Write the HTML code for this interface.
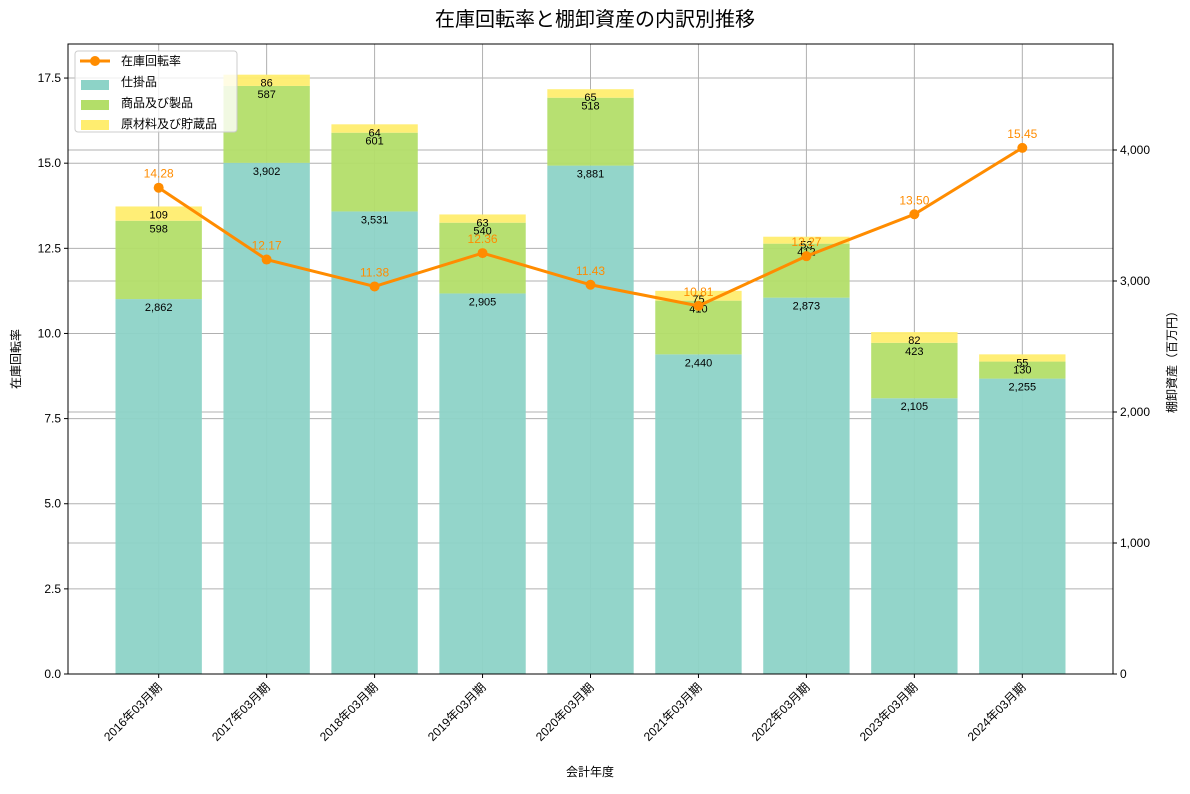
<!DOCTYPE html>
<html><head><meta charset="utf-8"><style>
body{margin:0;background:#fff;font-family:"Liberation Sans","Noto Sans CJK JP",sans-serif;}
svg text{font-family:"Liberation Sans","Noto Sans CJK JP",sans-serif;}
</style></head><body>
<svg id="chart" width="1190" height="789" xmlns="http://www.w3.org/2000/svg">
<text x="595" y="26" text-anchor="middle" font-size="20" fill="#000">在庫回転率と棚卸資産の内訳別推移</text>
<g id="grid"></g><g id="bars"></g><g id="line"></g><g id="axes"></g>
</svg>
<script>
const categories=["2016年03月期","2017年03月期","2018年03月期","2019年03月期","2020年03月期","2021年03月期","2022年03月期","2023年03月期","2024年03月期"];
const wip=[2862,3902,3531,2905,3881,2440,2873,2105,2255];
const goods=[598,587,601,540,518,410,412,423,130];
const materials=[109,86,64,63,65,75,53,82,55];
const turnover=[14.28,12.17,11.38,12.36,11.43,10.81,12.27,13.50,15.45];
const leftTicks=[0,2.5,5,7.5,10,12.5,15,17.5];
const rightTicks=[0,1000,2000,3000,4000];
const L=68,R=1113,T=44,B=674;
const NS="http://www.w3.org/2000/svg";
function xS(i){return L+(i+0.84)*(R-L)/9.68;}
const bw=0.8*(R-L)/9.68;
function yL(v){return B-v*(B-T)/18.5;}
function yR(v){return B-v*0.131;}
function el(tag,attrs,parent,txt){const e=document.createElementNS(NS,tag);for(const k in attrs)e.setAttribute(k,attrs[k]);if(txt!==undefined)e.textContent=txt;document.getElementById(parent).appendChild(e);return e;}
function fmt(v){return v.toLocaleString('en-US');}
// grid
leftTicks.forEach(t=>{const g=el('line',{x1:L,x2:R,y1:yL(t),y2:yL(t),stroke:'#b0b0b0','stroke-width':1},'grid');});
rightTicks.forEach(t=>{const g=el('line',{x1:L,x2:R,y1:yR(t),y2:yR(t),stroke:'#b0b0b0','stroke-width':1},'grid');});
categories.forEach((c,i)=>{const g=el('line',{x1:xS(i),x2:xS(i),y1:T,y2:B,stroke:'#b0b0b0','stroke-width':1},'grid');});
// bars
const series=[[wip,'#8dd3c7','wip'],[goods,'#b3de69','goods'],[materials,'#ffed6f','materials']];
categories.forEach((c,i)=>{let base=0;series.forEach(([arr,col,nm])=>{const v=arr[i];const y0=yR(base),y1=yR(base+v);
const r=el('rect',{x:xS(i)-bw/2,y:y1,width:bw,height:y0-y1,fill:col,opacity:0.95},'bars');

const t=el('text',{x:xS(i),y:y1+12,'text-anchor':'middle','font-size':11,fill:'#000'},'bars',fmt(v));

base+=v;});});
// line
const pts=turnover.map((v,i)=>xS(i)+','+yL(v)).join(' ');
const pl=el('polyline',{points:pts,fill:'none',stroke:'#ff8c00','stroke-width':3},'line');

turnover.forEach((v,i)=>{const c=el('circle',{cx:xS(i),cy:yL(v),r:5,fill:'#ff8c00'},'line');

const t=el('text',{x:xS(i),y:yL(v)-10,'text-anchor':'middle','font-size':12,fill:'#ff8c00'},'line',v.toFixed(2));
});
// axes frame
const f=el('rect',{x:L,y:T,width:R-L,height:B-T,fill:'none',stroke:'#000','stroke-width':1},'axes');

leftTicks.forEach(t=>{el('line',{x1:L-4,x2:L,y1:yL(t),y2:yL(t),stroke:'#000'},'axes');
const tx=el('text',{x:L-7,y:yL(t)+4,'text-anchor':'end','font-size':12},'axes',t.toFixed(1));});
rightTicks.forEach(t=>{el('line',{x1:R,x2:R+4,y1:yR(t),y2:yR(t),stroke:'#000'},'axes');
const tx=el('text',{x:R+7,y:yR(t)+4,'text-anchor':'start','font-size':12},'axes',fmt(t));});
categories.forEach((c,i)=>{el('line',{x1:xS(i),x2:xS(i),y1:B,y2:B+4,stroke:'#000'},'axes');
const tx=el('text',{x:xS(i)+4,y:B+14,'text-anchor':'end','font-size':12,transform:`rotate(-45 ${xS(i)+4} ${B+14})`},'axes',c);
});
let a=el('text',{x:590,y:776,'text-anchor':'middle','font-size':12},'axes','会計年度');
a=el('text',{x:20,y:359,'text-anchor':'middle','font-size':12,transform:'rotate(-90 20 359)'},'axes','在庫回転率');
a=el('text',{x:1176,y:359,'text-anchor':'middle','font-size':12,transform:'rotate(-90 1176 359)'},'axes','棚卸資産（百万円）');
// legend
const lg=el('rect',{x:75,y:51,width:162,height:81,fill:'#fff','fill-opacity':0.8,stroke:'#ccc',rx:3},'axes');
el('line',{x1:80,x2:110,y1:61,y2:61,stroke:'#ff8c00','stroke-width':3},'axes');el('circle',{cx:95,cy:61,r:5,fill:'#ff8c00'},'axes');
[['#8dd3c7',85],['#b3de69',105],['#ffed6f',125]].forEach(([c,y])=>{el('rect',{x:81,y:y-5,width:28,height:10,fill:c},'axes');});
[['在庫回転率',61],['仕掛品',82],['商品及び製品',103],['原材料及び貯蔵品',124]].forEach(([s,y])=>{const t=el('text',{x:121,y:y+4,'font-size':12},'axes',s);});
</script>
</body></html>
